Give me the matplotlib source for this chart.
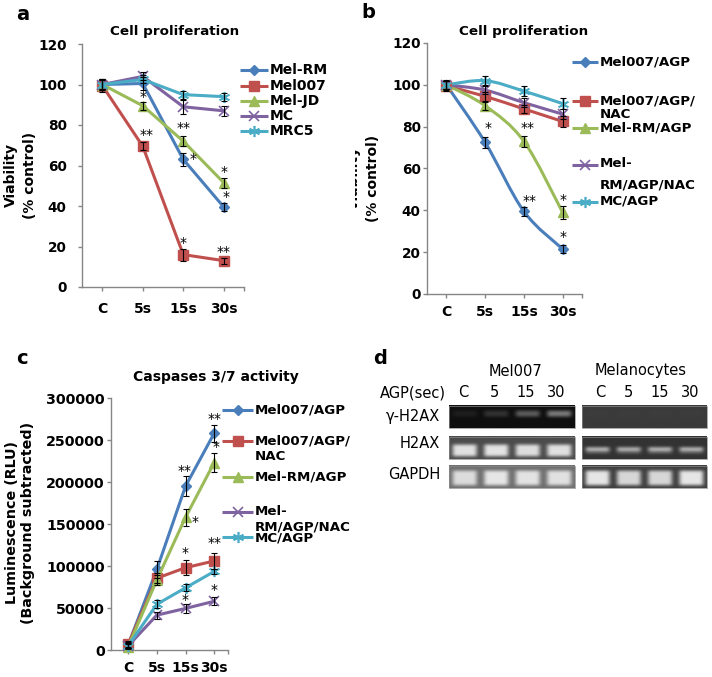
import numpy as np
import matplotlib
matplotlib.use('Agg')
import matplotlib.pyplot as plt
from matplotlib.path import Path
from matplotlib.patches import PathPatch, Rectangle

plt.rcParams['font.family'] = ['DejaVu Sans']

# ---------------- data ----------------
time_labels = ['C', '5s', '15s', '30s']

# panel a: cell proliferation (% control)
a_names = ['Mel-RM', 'Mel007', 'Mel-JD', 'MC', 'MRC5']
a_mel_rm = [100, 100.5, 63, 39.5]
a_mel007 = [99.5, 69.5, 16, 13]
a_mel_jd = [100, 89.5, 72, 51.5]
a_mc = [100, 104, 89, 87]
a_mrc5 = [100, 102.5, 95, 94]
a_mel_rm_err = [2.5, 3, 3, 2]
a_mel007_err = [3, 2, 3, 1.5]
a_mel_jd_err = [2, 2, 2.5, 2.5]
a_mc_err = [2.5, 2, 3.5, 2.5]
a_mrc5_err = [2, 2, 2, 2]
a_star_x = [1, 1.1, 2, 2.23, 2, 3, 3.06, 3]
a_star_y = [94, 75, 78.5, 63, 21.7, 57, 44.6, 17.4]
a_star_t = ['*', '**', '**', '*', '*', '*', '*', '**']

# panel b: cell proliferation (% control)
b_names = ['Mel007/AGP', 'Mel007/AGP/NAC', 'Mel-RM/AGP', 'Mel-RM/AGP/NAC', 'MC/AGP']
b_mel007_agp = [100, 72.5, 39.5, 21.5]
b_mel007_agp_nac = [99.5, 94.5, 88.5, 82.5]
b_melrm_agp = [100, 90, 73, 39]
b_melrm_agp_nac = [100, 97.5, 91.5, 86]
b_mc_agp = [100, 102, 97, 91]
b_mel007_agp_err = [2.5, 2.5, 2, 2]
b_mel007_agp_nac_err = [2.5, 2, 2, 2.5]
b_melrm_agp_err = [2, 2, 2.5, 3]
b_melrm_agp_nac_err = [2, 2, 2, 2.5]
b_mc_agp_err = [2, 2, 2.5, 2.5]
b_star_x = [1.08, 2.1, 2.15, 3.0, 3.0]
b_star_y = [79.4, 79.4, 44.3, 45.1, 27.1]
b_star_t = ['*', '**', '**', '*', '*']

# panel c: caspases 3/7 activity (RLU)
c_mel007_agp = [6000, 96000, 195000, 258000]
c_mel007_agp_nac = [7000, 85500, 98000, 106000]
c_melrm_agp = [4000, 83500, 158000, 223000]
c_melrm_agp_nac = [5000, 41500, 49500, 58000]
c_mc_agp = [5000, 54500, 74000, 93500]
c_mel007_agp_err = [4000, 10000, 12000, 10000]
c_mel007_agp_nac_err = [4000, 6000, 9000, 10000]
c_melrm_agp_err = [3000, 6000, 10000, 11000]
c_melrm_agp_nac_err = [3000, 4000, 5000, 5000]
c_mc_agp_err = [3000, 4500, 4000, 3000]
c_star_x = [1.98, 3.0, 3.06, 2.33, 2.0, 3.0, 2.0, 3.0]
c_star_y = [212600, 275000, 241600, 151800, 116000, 127000, 59600, 71500]
c_star_t = ['**', '**', '*', '*', '*', '**', '*', '*']

# panel d: gel
gel_rows = ['\u03b3-H2AX', 'H2AX', 'GAPDH']
gel_groups = ['Mel007', 'Melanocytes']
gel_lanes = ['C', '5', '15', '30']
mel007_bands = [[0.12, 0.20, 0.36, 0.48], [0.88, 0.89, 0.87, 0.88], [0.86, 0.90, 0.89, 0.88]]
melano_bands = [[0.24, 0.24, 0.24, 0.24], [0.82, 0.80, 0.82, 0.82], [0.90, 0.84, 0.84, 0.90]]
mel007_bg = [0.06, 0.30, 0.44]
melano_bg = [0.23, 0.20, 0.25]

# ---------------- styles ----------------
W, H = 712, 677
AXC = '#868686'
BLUE, RED, GREEN, PURPLE, CYAN = '#4A7EBB', '#C0504D', '#9BBB59', '#7F63A1', '#4BACC6'
STY = [
    dict(color=BLUE, marker='D', ms=5, mew=1),
    dict(color=RED, marker='s', ms=6.5, mew=1),
    dict(color=GREEN, marker='^', ms=7.5, mew=1),
    dict(color=PURPLE, marker='x', ms=7, mew=1.2),
    dict(color=CYAN, marker=(6, 2, 0), ms=8, mew=1.2),
]

fig = plt.figure(figsize=(W / 100, H / 100), dpi=100)


def add_ax(l, t, r, b):
    return fig.add_axes([l / W, 1 - b / H, (r - l) / W, (b - t) / H])


def style_ax(ax, xlim, ylim, yticks, ypad, xpad, ysize):
    for s in ['top', 'right']:
        ax.spines[s].set_visible(False)
    for s in ['left', 'bottom']:
        ax.spines[s].set_color(AXC)
        ax.spines[s].set_linewidth(1)
    ax.set_xlim(xlim)
    ax.set_ylim(ylim)
    ax.set_xticks(range(len(time_labels)))
    ax.set_xticklabels(time_labels)
    ax.set_xticks([3.5], minor=True)
    ax.set_yticks(yticks)
    ax.set_yticklabels([str(v) for v in yticks])
    ax.tick_params(which='both', direction='out', length=3, width=1, color=AXC)
    ax.tick_params(axis='x', pad=xpad, labelsize=10)
    ax.tick_params(axis='y', pad=ypad, labelsize=ysize)
    for lab in ax.get_xticklabels() + ax.get_yticklabels():
        lab.set_fontweight('bold')
    ax.patch.set_alpha(0)


def smooth_path(xs, ys):
    pts = np.column_stack([xs, ys]).astype(float)
    n = len(pts)
    verts = [pts[0]]
    codes = [Path.MOVETO]
    for i in range(n - 1):
        p0 = pts[max(i - 1, 0)]
        p1 = pts[i]
        p2 = pts[i + 1]
        p3 = pts[min(i + 2, n - 1)]
        verts += [p1 + (p2 - p0) / 6, p2 - (p3 - p1) / 6, p2]
        codes += [Path.CURVE4] * 3
    return Path(verts, codes)


def draw_series(ax, ys, errs, st, smooth=False):
    xs = np.arange(len(ys))
    if smooth:
        ax.add_patch(PathPatch(smooth_path(xs, ys), fill=False, edgecolor=st['color'],
                               lw=2.2, zorder=3, capstyle='round'))
        ax.plot(xs, ys, linestyle='none', marker=st['marker'], ms=st['ms'], color=st['color'],
                mec=st['color'], mew=st['mew'], zorder=4, clip_on=False)
    else:
        ax.plot(xs, ys, color=st['color'], lw=2.2, marker=st['marker'], ms=st['ms'],
                mec=st['color'], mew=st['mew'], zorder=3, clip_on=False)
    ax.errorbar(xs, ys, yerr=errs, fmt='none', ecolor='black', elinewidth=0.8,
                capsize=2.5, capthick=0.8, zorder=5, clip_on=False)


def draw_stars(ax, sx, sy, st):
    for x, y, t in zip(sx, sy, st):
        ax.text(x, y, t, ha='center', va='center', fontsize=10, color='black', zorder=6)


# ---------------- panel a ----------------
axa = add_ax(82, 44, 244, 287)
style_ax(axa, (-0.5, 3.5), (0, 120), list(range(0, 121, 20)), 8, 8, 9.8)
for ys, es, st in zip([a_mel_rm, a_mel007, a_mel_jd, a_mc, a_mrc5],
                      [a_mel_rm_err, a_mel007_err, a_mel_jd_err, a_mc_err, a_mrc5_err], STY):
    draw_series(axa, ys, es, st)
draw_stars(axa, a_star_x, a_star_y, a_star_t)

# ---------------- panel b ----------------
axb = add_ax(427, 43, 582, 294)
style_ax(axb, (-0.5, 3.5), (0, 120), list(range(0, 121, 20)), 1.5, 5, 9.8)
for ys, es, st in zip([b_mel007_agp, b_mel007_agp_nac, b_melrm_agp, b_melrm_agp_nac, b_mc_agp],
                      [b_mel007_agp_err, b_mel007_agp_nac_err, b_melrm_agp_err,
                       b_melrm_agp_nac_err, b_mc_agp_err], STY):
    draw_series(axb, ys, es, st, smooth=True)
draw_stars(axb, b_star_x, b_star_y, b_star_t)

# ---------------- panel c ----------------
axc = add_ax(111, 398, 228.5, 650)
style_ax(axc, (-0.6, 3.5), (0, 300000), list(range(0, 300001, 50000)), 1.5, 5, 10.3)
for ys, es, st in zip([c_mel007_agp, c_mel007_agp_nac, c_melrm_agp, c_melrm_agp_nac, c_mc_agp],
                      [c_mel007_agp_err, c_mel007_agp_nac_err, c_melrm_agp_err,
                       c_melrm_agp_nac_err, c_mc_agp_err], STY):
    draw_series(axc, ys, es, st)
draw_stars(axc, c_star_x, c_star_y, c_star_t)

# ---------------- overlay (pixel coordinates) ----------------
axd = fig.add_axes([0, 0, 1, 1])
axd.set_xlim(0, W)
axd.set_ylim(H, 0)
axd.axis('off')
axd.patch.set_alpha(0)


def txt(x, y, s, size=10, weight='bold', ha='center', va='center', rot=0, **kw):
    return axd.text(x, y, s, fontsize=size, fontweight=weight, ha=ha, va=va, rotation=rot, **kw)


# panel letters
txt(23, 15, 'a', size=14)
txt(368, 12, 'b', size=14)
txt(22, 358, 'c', size=14)
txt(380, 359, 'd', size=14)

# titles
txt(175, 32, 'Cell proliferation', size=9.7)
txt(524, 32, 'Cell proliferation', size=9.7)
txt(216, 377, 'Caspases 3/7 activity', size=10)

# y labels
txt(11, 175, 'Viability', size=10, rot=90)
txt(30.5, 175, '(% control)', size=10, rot=90)
tb = txt(354, 178, 'Viability', size=10, rot=90)
clip = Rectangle((354.5, 0), 358, H, transform=axd.transData)
tb.set_clip_on(True)
tb.set_clip_path(clip)
txt(373, 178, '(% control)', size=10, rot=90)
txt(12, 523, 'Luminescence (RLU)', size=10.3, rot=90)
txt(28.5, 523, '(Background subtracted)', size=10.3, rot=90)


# legends
def legend_key(x0, x1, y, st):
    axd.plot([x0, x1], [y, y], color=st['color'], lw=2.2, solid_capstyle='butt')
    axd.plot([(x0 + x1) / 2], [y], linestyle='none', marker=st['marker'], ms=st['ms'],
             color=st['color'], mec=st['color'], mew=st['mew'])


a_leg_y = [70, 86, 101, 116, 131]
for name, y, st in zip(a_names, a_leg_y, STY):
    legend_key(240, 268, y, st)
    txt(270, y, name, size=10, ha='left')

b_leg_key_y = [62, 101, 128, 165, 201.5]
b_leg_lines = [['Mel007/AGP'], ['Mel007/AGP/', 'NAC'], ['Mel-RM/AGP'], ['Mel-', 'RM/AGP/NAC'], ['MC/AGP']]
b_leg_line_y = [[62], [100.5, 115], [128], [163.5, 184.5], [201.5]]
for ky, lines, lys, st in zip(b_leg_key_y, b_leg_lines, b_leg_line_y, STY):
    legend_key(572, 598, ky, st)
    for s, ly in zip(lines, lys):
        txt(600, ly, s, size=9.6, ha='left')

c_leg_key_y = [410, 441, 477, 512, 537]
c_leg_line_y = [[410], [440.5, 456], [477], [511.5, 526.5], [538]]
for ky, lines, lys, st in zip(c_leg_key_y, b_leg_lines, c_leg_line_y, STY):
    legend_key(222, 253, ky, st)
    for s, ly in zip(lines, lys):
        txt(255, ly, s, size=9.6, ha='left')

# ---------------- panel d: gel ----------------
strip_x = [(449.3, 575.0), (582.3, 707.3)]
strip_top = [405.7, 436.7, 465.7]
strip_h = 22.6
n_rows, lane_cols = 8, 8
band_rows = {  # (group, row) -> rows of the band inside the strip
    (0, 0): (2, 4), (0, 1): (3, 7), (0, 2): (2, 7),
    (1, 0): (2, 4), (1, 1): (4, 6), (1, 2): (2, 7),
}
for g, (bands, bgs) in enumerate([(mel007_bands, mel007_bg), (melano_bands, melano_bg)]):
    x0, x1 = strip_x[g]
    for r in range(len(gel_rows)):
        img = np.full((n_rows, lane_cols * len(gel_lanes)), bgs[r])
        r0, r1 = band_rows[(g, r)]
        for j, v in enumerate(bands[r]):
            img[r0:r1, j * lane_cols + 1:(j + 1) * lane_cols - 1] = v
        if (g, r) == (1, 1):
            img[r0 + 1:r1, :] = np.where(img[r0 + 1:r1, :] > bgs[r], bgs[r] + 0.4 * (img[r0 + 1:r1, :] - bgs[r]), bgs[r])
        top = strip_top[r]
        axd.imshow(img, cmap='gray', vmin=0, vmax=1, aspect='auto', interpolation='bicubic',
                   extent=(x0, x1, top + strip_h, top), zorder=2)
        axd.add_patch(Rectangle((x0, top), x1 - x0, strip_h, fill=False, edgecolor='#8a8a8a',
                                lw=0.5, zorder=3))

axd.set_xlim(0, W)
axd.set_ylim(H, 0)

txt(515, 371, gel_groups[0], size=10.5, weight='normal')
txt(641, 371, gel_groups[1], size=10.5, weight='normal')
txt(446, 392.5, 'AGP(sec)', size=10.5, weight='normal', ha='right')
left_lane_x = [463.5, 494.5, 525.5, 556]
right_lane_x = [600, 628, 659.5, 690]
for s, x in zip(gel_lanes, left_lane_x):
    txt(x, 392.5, s, size=10.5, weight='normal')
for s, x in zip(gel_lanes, right_lane_x):
    txt(x, 392.5, s, size=10.5, weight='normal')
for s, y in zip(gel_rows, [416.5, 444, 474.5]):
    txt(440, y, s, size=10.5, weight='normal', ha='right')

fig.savefig('out.png', dpi=100)
